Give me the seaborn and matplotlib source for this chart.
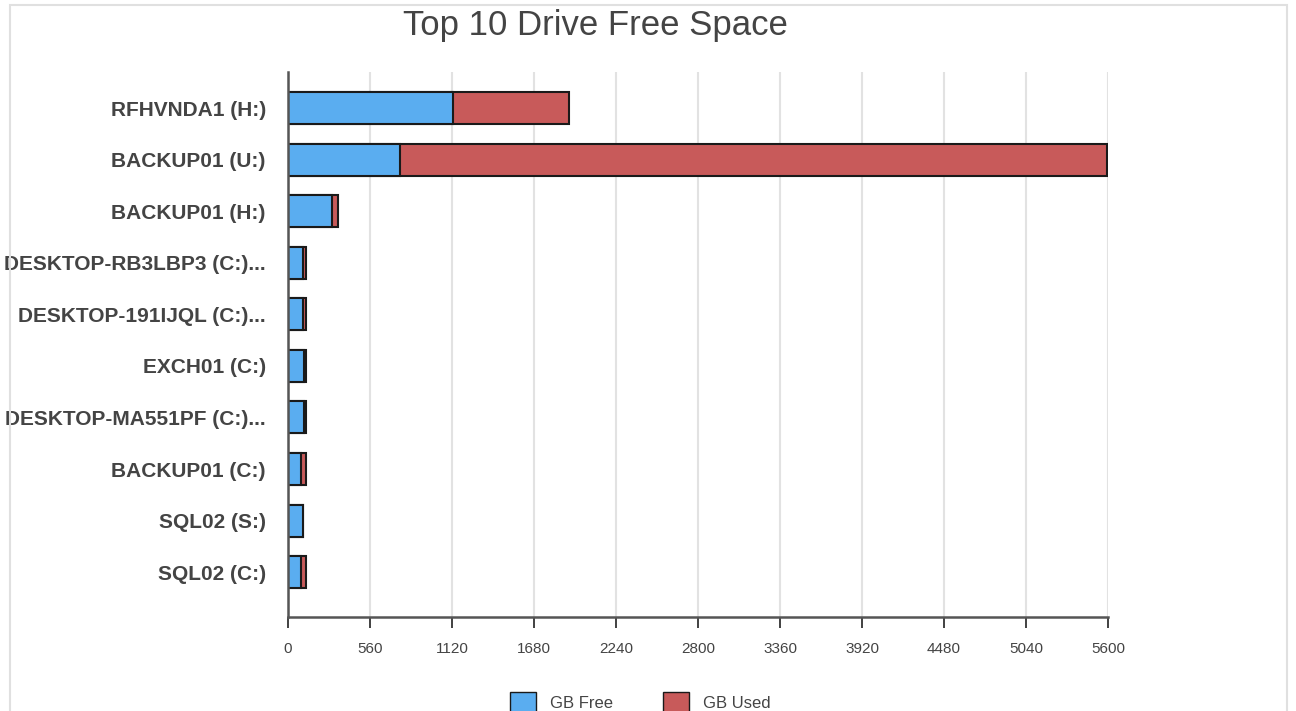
import matplotlib
matplotlib.use("Agg")
import matplotlib.pyplot as plt
from matplotlib.patches import Patch, Rectangle
import seaborn as sns
import numpy as np

drives = ['RFHVNDA1 (H:)', 'BACKUP01 (U:)', 'BACKUP01 (H:)', 'DESKTOP-RB3LBP3 (C:)...',
          'DESKTOP-191IJQL (C:)...', 'EXCH01 (C:)', 'DESKTOP-MA551PF (C:)...',
          'BACKUP01 (C:)', 'SQL02 (S:)', 'SQL02 (C:)']
gb_free = [1130, 765, 300, 105, 105, 110, 110, 92, 100, 88]
gb_used = [790, 4830, 40, 20, 20, 10, 12, 30, 3, 35]
ticks = [0, 560, 1120, 1680, 2240, 2800, 3360, 3920, 4480, 5040, 5600]

blue = '#5AADF0'
red = '#C85A5A'
edge = '#1a1a1a'
text_col = '#444444'

sns.set_style('white')
plt.rcParams['font.family'] = ['Liberation Sans', 'DejaVu Sans']

fig = plt.figure(figsize=(12.96, 7.11), dpi=100)
ax = fig.add_axes([288 / 1296, 1 - 617 / 711, 820 / 1296, 545 / 711])

totals = np.array(gb_free) + np.array(gb_used)
sns.barplot(x=totals, y=drives, orient='h', color=red, saturation=1, width=0.62,
            edgecolor=edge, linewidth=1.5, ax=ax)
sns.barplot(x=gb_free, y=drives, orient='h', color=blue, saturation=1, width=0.62,
            edgecolor=edge, linewidth=1.5, ax=ax)

ax.set_xlim(0, 5600)
ax.set_ylim(9.87, -0.7)
ax.set_xticks(ticks)
ax.set_xticklabels([str(t) for t in ticks], fontsize=11, color=text_col)
ax.tick_params(axis='x', bottom=True, direction='out', length=8, width=1.3,
               color='#333333', pad=10)
ax.tick_params(axis='y', left=False, length=0, pad=16)
for lbl in ax.get_yticklabels():
    lbl.set_fontsize(15)
    lbl.set_fontweight('bold')
    lbl.set_color(text_col)
ax.set_xlabel('')
ax.set_ylabel('')
ax.grid(axis='x', color='#e2e2e2', linewidth=1.5)
ax.set_axisbelow(True)
for side in ['top', 'right']:
    ax.spines[side].set_visible(False)
for side in ['left', 'bottom']:
    ax.spines[side].set_color('#555555')
    ax.spines[side].set_linewidth(1.8)

fig.text(595 / 1296, 1 - 25 / 711, 'Top 10 Drive Free Space', ha='center', va='center',
         fontsize=25, color=text_col)

handles = [Patch(facecolor=blue, edgecolor=edge, label='GB Free'),
           Patch(facecolor=red, edgecolor=edge, label='GB Used')]
fig.legend(handles=handles, loc='center', bbox_to_anchor=(640 / 1296, 1 - 702 / 711),
           ncol=2, frameon=False, fontsize=12, handlelength=1.6, handleheight=1.4,
           columnspacing=3, labelcolor=text_col)

fig.patches.append(Rectangle((10 / 1296, -0.01), 1277 / 1296, 1 - 5 / 711 + 0.01,
                             transform=fig.transFigure, fill=False,
                             edgecolor='#e0e0e0', linewidth=1.5))

fig.savefig('out.png', dpi=100)
